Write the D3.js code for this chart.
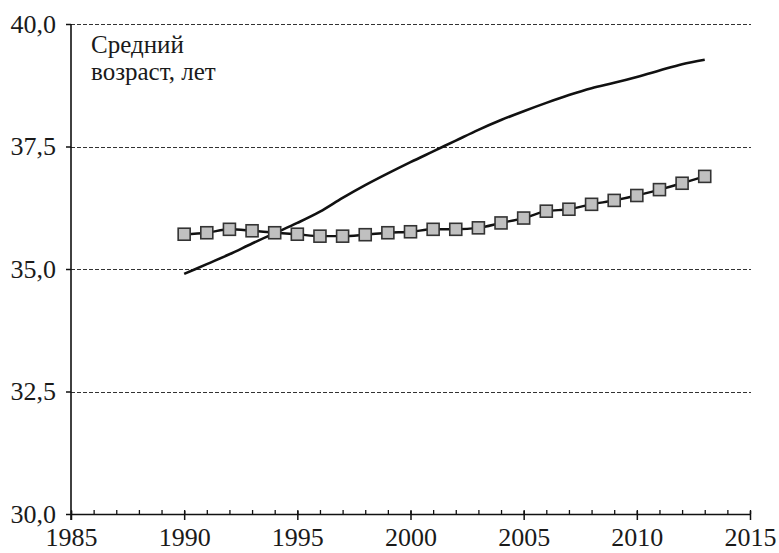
<!DOCTYPE html>
<html>
<head>
<meta charset="utf-8">
<script src="https://cdn.jsdelivr.net/npm/d3@7"></script>
<style>
body { margin:0; background:#fff; }
svg text { font-family: "Liberation Serif", "DejaVu Serif", serif !important; fill:#1a1a1a; }
.domain { stroke:#111; }
</style>
</head>
<body>
<svg id="chart" width="779" height="553"></svg>
<script>
var years = [1990,1991,1992,1993,1994,1995,1996,1997,1998,1999,2000,2001,
             2002,2003,2004,2005,2006,2007,2008,2009,2010,2011,2012,2013];
// smooth line (no markers)
var lineVals = [34.90,35.10,35.30,35.52,35.73,35.94,36.17,36.45,36.71,36.95,37.18,37.40,
                37.62,37.84,38.04,38.22,38.39,38.55,38.69,38.80,38.92,39.05,39.18,39.27];
// line with square markers
var squareVals = [35.71,35.74,35.81,35.78,35.74,35.71,35.67,35.67,35.70,35.74,35.76,35.81,
                  35.81,35.84,35.94,36.04,36.18,36.22,36.32,36.40,36.50,36.62,36.75,36.89];
var yTicks = [30,32.5,35,37.5,40];
var xTicks = [1985,1990,1995,2000,2005,2010,2015];
var yLabel = ["Средний","возраст, лет"];

var svg = d3.select("#chart");
var width = 779, height = 553;

var xScale = d3.scaleLinear().domain([1985,2015]).range([71,750]);
var yScale = d3.scaleLinear().domain([30,40]).range([514,24]);
var fmt = function(d){ return d3.format(".1f")(d).replace(".",","); };

svg.append("rect")
	.attr("x",0).attr("y",0)
	.attr("width",width).attr("height",height)
	.style("fill","#fff");

// dashed grid lines
svg.append("g")
	.attr("id","grid")
	.selectAll("line")
	.data(yTicks.filter(function(d){ return d > 30; }))
	.enter()
	.append("line")
	.attr("x1",xScale(1985))
	.attr("x2",xScale(2015)+1)
	.attr("y1",function(d){ return Math.round(yScale(d))+0.5; })
	.attr("y2",function(d){ return Math.round(yScale(d))+0.5; })
	.style("stroke","#333")
	.style("stroke-width",1.1)
	.style("stroke-dasharray","4,2");

// minor x ticks (every year, pointing up)
svg.append("g")
	.attr("transform","translate(0,"+yScale(30)+")")
	.call(d3.axisTop(xScale).tickValues(d3.range(1985,2016,1)).tickSize(4).tickFormat(""))
	.call(function(g){ g.select(".domain").remove(); })
	.selectAll(".tick line").style("stroke","#111").style("stroke-width",1.3);

// major x ticks and labels
var xAxis = svg.append("g")
	.attr("transform","translate(0,"+yScale(30)+")")
	.attr("class","axis")
	.call(d3.axisBottom(xScale).tickValues(xTicks).tickSize(6).tickSizeOuter(0).tickPadding(8).tickFormat(d3.format("d")));
xAxis.attr("font-family",null).attr("font-size",null);
xAxis.select(".domain").style("stroke-width",1.6);
xAxis.selectAll(".tick line").attr("y1",-3).style("stroke","#111").style("stroke-width",1.5);
xAxis.selectAll("text").style("font-size","26px");

// y axis
var yAxis = svg.append("g")
	.attr("transform","translate("+xScale(1985)+",0)")
	.attr("class","axis")
	.call(d3.axisLeft(yScale).tickValues(yTicks).tickSize(5).tickSizeOuter(0).tickPadding(10).tickFormat(fmt));
yAxis.attr("font-family",null).attr("font-size",null);
yAxis.select(".domain").attr("d","M0,"+yScale(40)+"V"+(yScale(30)+6)).style("stroke-width",1.6);
yAxis.selectAll(".tick line").style("stroke","#111").style("stroke-width",1.5);
yAxis.selectAll("text").style("font-size","26px");

// black line
var line = d3.line()
	.x(function(d,i){ return xScale(years[i]); })
	.y(function(d){ return yScale(d); })
	.curve(d3.curveMonotoneX);

svg.append("path")
	.datum(lineVals)
	.attr("d",line)
	.style("fill","none")
	.style("stroke","#111")
	.style("stroke-width",2.6);

// square series
svg.append("path")
	.datum(squareVals)
	.attr("d",line)
	.style("fill","none")
	.style("stroke","#111")
	.style("stroke-width",2.4);

var sq = 12;
svg.append("g")
	.attr("id","squares")
	.selectAll("rect")
	.data(squareVals)
	.enter()
	.append("rect")
	.attr("x",function(d,i){ return xScale(years[i]) - sq/2; })
	.attr("y",function(d){ return yScale(d) - sq/2; })
	.attr("width",sq)
	.attr("height",sq)
	.style("fill","#c0c0c0")
	.style("stroke","#333")
	.style("stroke-width",1.6);

// label
svg.append("g")
	.attr("id","label")
	.selectAll("text")
	.data(yLabel)
	.enter()
	.append("text")
	.attr("x",91)
	.attr("y",function(d,i){ return 53 + i*27; })
	.style("font-size","25px")
	.text(function(d){ return d; });
</script>
</body>
</html>
